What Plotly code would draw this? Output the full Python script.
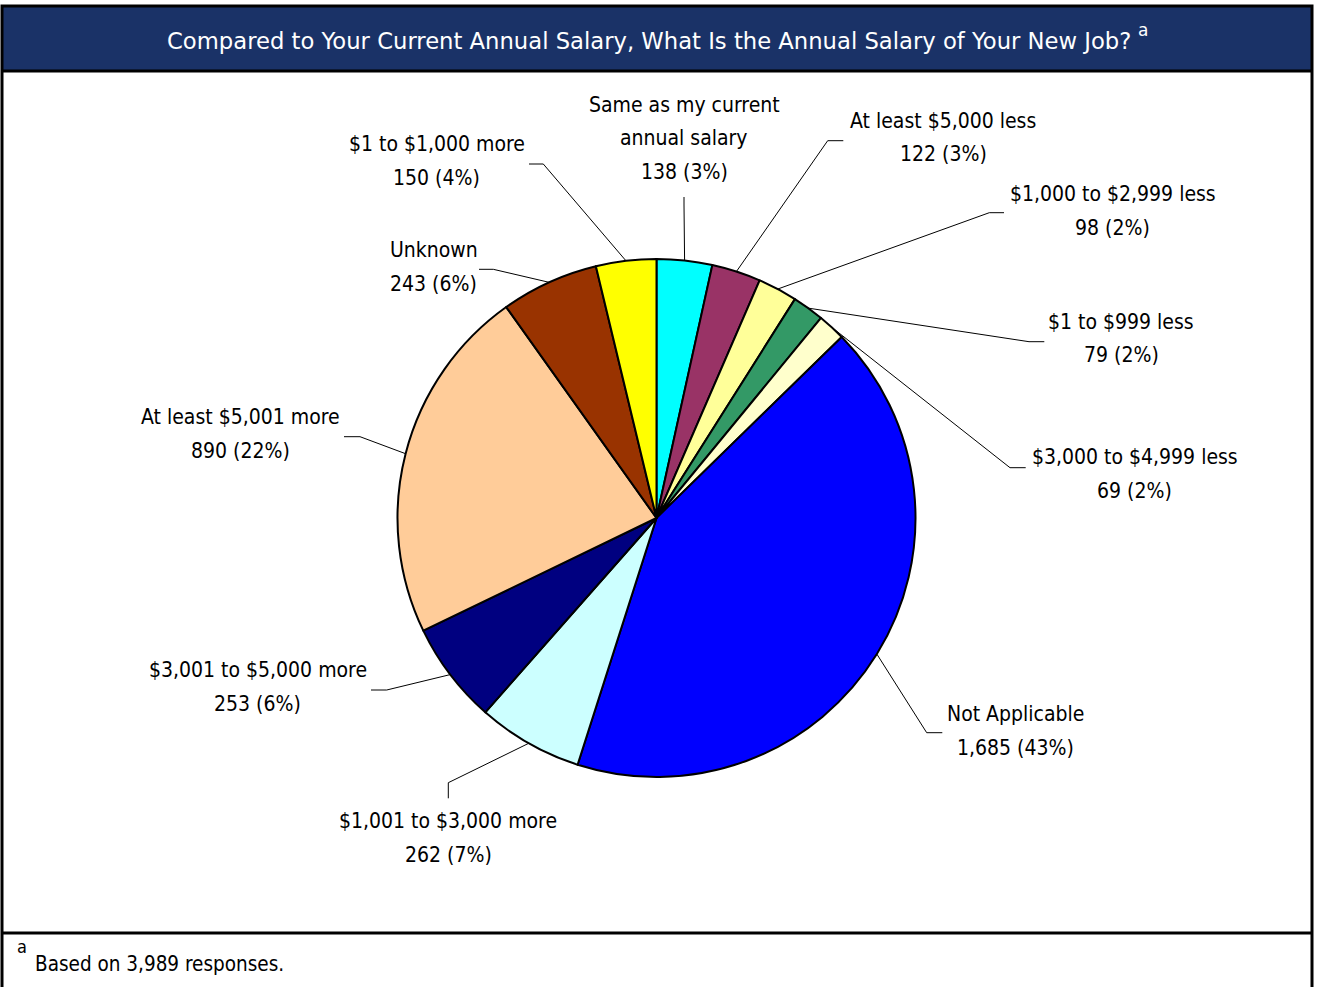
import math
import plotly.graph_objects as go

# Survey responses, listed clockwise from 12 o'clock
categories = [
    "Same as my current\nannual salary",
    "At least $5,000 less",
    "$1,000 to $2,999 less",
    "$1 to $999 less",
    "$3,000 to $4,999 less",
    "Not Applicable",
    "$1,001 to $3,000 more",
    "$3,001 to $5,000 more",
    "At least $5,001 more",
    "Unknown",
    "$1 to $1,000 more",
]
counts = [138, 122, 98, 79, 69, 1685, 262, 253, 890, 243, 150]
percent_shown = [3, 3, 2, 2, 2, 43, 7, 6, 22, 6, 4]
slice_colors = [
    "#00FFFF", "#993366", "#FFFF99", "#339966", "#FFFFCC", "#0000FF",
    "#CCFFFF", "#000080", "#FFCC99", "#993300", "#FFFF00",
]

title_text = "Compared to Your Current Annual Salary, What Is the Annual Salary of Your New Job?"
footnote_text = "Based on 3,989 responses."

# ---- page layout (pixels) ----
W, H = 1319, 987
CX, CY, R = 656.5, 518.0, 259.0
FONT = "DejaVu Sans Condensed, DejaVu Sans, sans-serif"
TITLE_FONT = "DejaVu Sans, sans-serif"
LINE_GAP = 33.5

# first-line centre of each label, then its leader stub (label end, knee)
label_pos = [(684, 105), (943, 121), (1112.5, 194), (1121, 322), (1134.5, 457),
             (1015, 714), (448, 821), (257.5, 670), (240, 417), (433.5, 250),
             (436.5, 144)]
leader_stub = [((684, 197), (684, 205)), ((843.3, 140.7), (827.7, 140.7)),
               ((1004, 212.7), (989.3, 212.7)), ((1044.3, 341.7), (1029, 341.7)),
               ((1025.7, 467.7), (1010, 467.7)), ((942.3, 732.7), (926.7, 732.7)),
               ((448.3, 798.3), (448.3, 782.7)), ((371, 690), (386.7, 690)),
               ((344, 436.7), (360, 436.7)), ((479, 269.3), (493.3, 269.3)),
               ((529, 164), (543.3, 164))]


def px(x):
    return x / W


def py(y):
    return 1 - y / H


fig = go.Figure(go.Pie(
    labels=[c.replace("\n", " ") for c in categories],
    values=counts,
    sort=False,
    direction="clockwise",
    rotation=0,
    textinfo="none",
    hoverinfo="label+value+percent",
    marker=dict(colors=slice_colors, line=dict(color="black", width=2)),
    domain=dict(x=[px(CX - R), px(CX + R)], y=[py(CY + R), py(CY - R)]),
    showlegend=False,
))

shapes = []
annotations = []

# frame, title band and footnote divider
shapes.append(dict(type="rect", xref="paper", yref="paper",
                   x0=px(2), x1=px(1312), y0=py(6), y1=py(71),
                   fillcolor="#1a3267", line=dict(width=0), layer="below"))
shapes.append(dict(type="path", xref="paper", yref="paper",
                   path=f"M {px(2)} {py(995)} L {px(2)} {py(6)} L {px(1312)} {py(6)} L {px(1312)} {py(995)}",
                   line=dict(color="black", width=3)))
for yy in (71, 933):
    shapes.append(dict(type="line", xref="paper", yref="paper",
                       x0=px(2), x1=px(1312), y0=py(yy), y1=py(yy),
                       line=dict(color="black", width=3)))

annotations.append(dict(x=px(648.5), y=py(41), xref="paper", yref="paper",
                        text=title_text, showarrow=False, xanchor="center", yanchor="middle",
                        font=dict(family=TITLE_FONT, size=22.7, color="white")))
annotations.append(dict(x=px(1143), y=py(30), xref="paper", yref="paper",
                        text="a", showarrow=False, xanchor="center", yanchor="middle",
                        font=dict(family=TITLE_FONT, size=17, color="white")))
annotations.append(dict(x=px(15), y=py(946), xref="paper", yref="paper",
                        text="a", showarrow=False, xanchor="left", yanchor="middle",
                        font=dict(family=FONT, size=18, color="black")))
annotations.append(dict(x=px(33), y=py(964), xref="paper", yref="paper",
                        text=footnote_text, showarrow=False, xanchor="left", yanchor="middle",
                        font=dict(family=FONT, size=20.5, color="black")))

# slice labels with leader lines drawn to each slice's mid-angle on the rim
total = sum(counts)
cum = 0
for i, (cat, n) in enumerate(zip(categories, counts)):
    mid = (cum + n / 2) / total
    cum += n
    ang = 2 * math.pi * mid
    ex, ey = CX + R * math.sin(ang), CY - R * math.cos(ang)
    (sx, sy), (kx, ky) = leader_stub[i]
    shapes.append(dict(type="path", xref="paper", yref="paper",
                       path=f"M {px(sx)} {py(sy)} L {px(kx)} {py(ky)} L {px(ex)} {py(ey)}",
                       line=dict(color="black", width=1)))
    lines = cat.split("\n") + [f"{n:,} ({percent_shown[i]}%)"]
    lx, ly = label_pos[i]
    for j, t in enumerate(lines):
        annotations.append(dict(x=px(lx), y=py(ly + j * LINE_GAP), xref="paper", yref="paper",
                                text=t, showarrow=False, xanchor="center", yanchor="middle",
                                font=dict(family=FONT, size=21, color="black")))

fig.update_layout(
    width=W, height=H,
    margin=dict(l=0, r=0, t=0, b=0),
    paper_bgcolor="white", plot_bgcolor="white",
    shapes=shapes, annotations=annotations,
)

fig.write_html("out.html")
